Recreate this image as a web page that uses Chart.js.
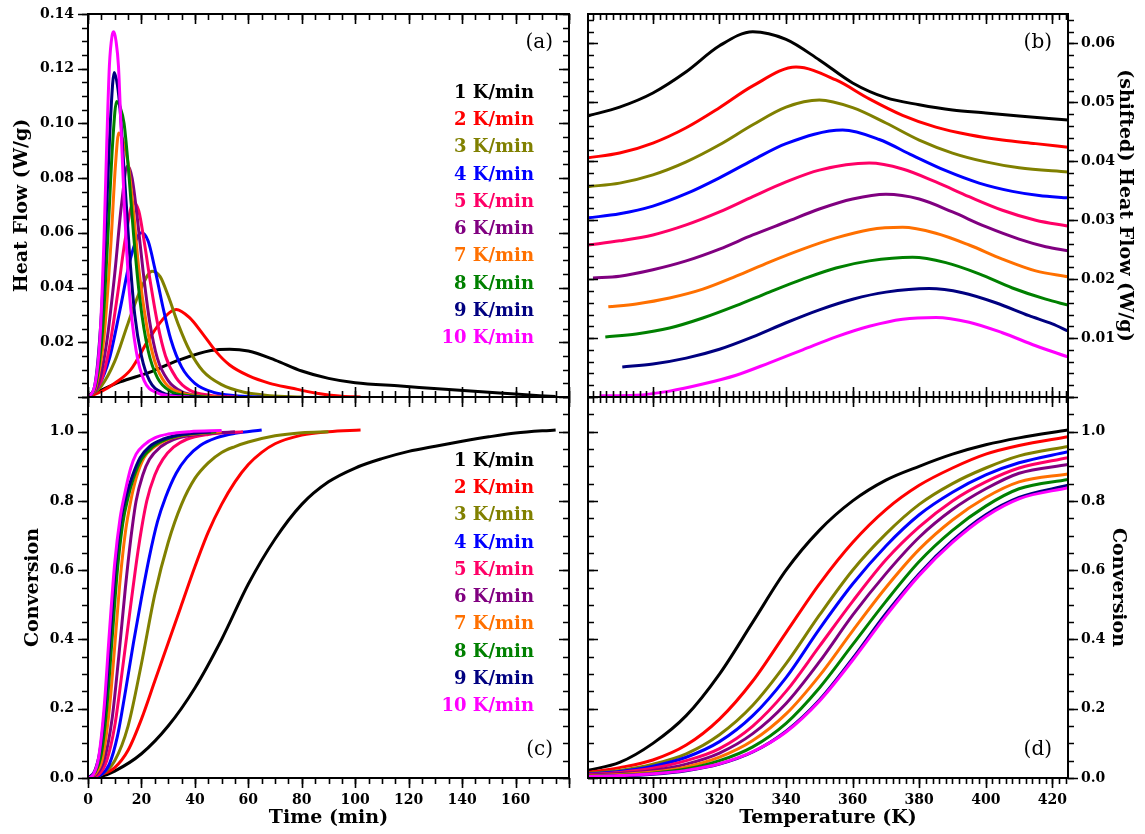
<!DOCTYPE html>
<html>
<head>
<meta charset="utf-8">
<script src="https://cdn.jsdelivr.net/npm/chart.js@4.4.1/dist/chart.umd.min.js"></script>
<style>
html, body { margin: 0; padding: 0; background: #fff; }
#wrap { position: relative; width: 1145px; height: 834px; }
canvas { position: absolute; left: 0; top: 0; }
</style>
</head>
<body>
<div id="wrap">
  <canvas id="pa" width="1145" height="834"></canvas>
  <canvas id="pb" width="1145" height="834"></canvas>
  <canvas id="pc" width="1145" height="834"></canvas>
  <canvas id="pd" width="1145" height="834"></canvas>
</div>
<script>
// heating rates and their colours
const rates = ["1 K/min", "2 K/min", "3 K/min", "4 K/min", "5 K/min",
               "6 K/min", "7 K/min", "8 K/min", "9 K/min", "10 K/min"];
const rateColors = ["#000000", "#ff0000", "#808000", "#0000ff", "#ff0066",
                    "#800080", "#ff7000", "#008000", "#000080", "#ff00ff"];

// tick labels
const timeTicks = [0, 20, 40, 60, 80, 100, 120, 140, 160];
const tempTicks = [300, 320, 340, 360, 380, 400, 420];
const heatTicks = [0.02, 0.04, 0.06, 0.08, 0.10, 0.12, 0.14];
const shiftTicks = [0.01, 0.02, 0.03, 0.04, 0.05, 0.06];
const convTicks = [0.0, 0.2, 0.4, 0.6, 0.8, 1.0];

// (a) heat flow vs time
const heatTime = [
  [0, 5, 12, 23, 34, 46, 53, 60, 70, 80, 90, 100, 117, 135, 154, 169, 175],
  [0, 5, 10, 16, 23, 29, 33, 38, 43, 48, 53, 60, 68, 76, 85, 95, 102],
  [0, 5, 10, 15, 20, 24, 27, 30, 34, 38, 43, 50, 58, 68, 80],
  [0, 4, 8, 12, 16, 20, 22.5, 25, 28, 31, 35, 40, 47, 55, 65],
  [0, 5, 8, 11, 14, 17, 19, 21, 23.5, 26, 29, 33, 38, 46, 56],
  [0, 4, 7, 10, 12.5, 14.8, 16.5, 18.5, 20.5, 23, 26, 30, 35, 42, 52],
  [0, 3, 6, 8.5, 10.3, 11.5, 13, 15, 17, 19, 22, 25, 29, 35, 42, 50],
  [0, 3, 5.5, 7.5, 9.3, 10.7, 12, 13.5, 15, 17, 19.5, 22.5, 26, 31, 38, 45],
  [0, 2.5, 5, 7, 8.5, 9.8, 11, 12, 13.5, 15.5, 17.5, 20, 23, 28, 34, 42],
  [0, 2.5, 4.5, 6, 7, 8, 9, 9.7, 10.5, 11.4, 12.3, 13.5, 15.5, 18, 21, 26, 32, 38]
];
const heatFlow = [
  [0, 0.0025, 0.0055, 0.009, 0.0135, 0.017, 0.0175, 0.0168, 0.0135, 0.0095, 0.0068, 0.0052, 0.004, 0.0027, 0.0015, 0.0005, 0.0002],
  [0, 0.002, 0.005, 0.01, 0.0215, 0.0295, 0.032, 0.029, 0.023, 0.0165, 0.0117, 0.0078, 0.005, 0.0033, 0.0015, 0.0003, 0],
  [0, 0.004, 0.013, 0.027, 0.040, 0.046, 0.044, 0.037, 0.026, 0.017, 0.0095, 0.0045, 0.0018, 0.0005, 0],
  [0, 0.004, 0.014, 0.032, 0.051, 0.060, 0.057, 0.047, 0.033, 0.021, 0.011, 0.005, 0.0017, 0.0005, 0],
  [0, 0.006, 0.018, 0.037, 0.058, 0.071, 0.068, 0.057, 0.041, 0.027, 0.015, 0.007, 0.0025, 0.0006, 0],
  [0, 0.005, 0.02, 0.045, 0.07, 0.0845, 0.08, 0.065, 0.047, 0.028, 0.014, 0.006, 0.002, 0.0005, 0],
  [0, 0.004, 0.022, 0.055, 0.085, 0.0965, 0.094, 0.0855, 0.068, 0.047, 0.026, 0.013, 0.005, 0.0015, 0.0004, 0],
  [0, 0.005, 0.025, 0.06, 0.094, 0.108, 0.106, 0.1, 0.085, 0.06, 0.035, 0.017, 0.007, 0.002, 0.0005, 0],
  [0, 0.004, 0.03, 0.07, 0.103, 0.1186, 0.114, 0.105, 0.083, 0.053, 0.03, 0.015, 0.006, 0.0015, 0.0004, 0],
  [0, 0.004, 0.022, 0.058, 0.092, 0.121, 0.132, 0.1335, 0.13, 0.121, 0.1, 0.072, 0.038, 0.017, 0.006, 0.0015, 0.0003, 0]
];

// (b) shifted heat flow vs temperature
const shiftTemp = [
  [280.5, 290, 300, 310, 320, 330, 340, 350, 360, 370, 380, 390, 400, 410, 424.7],
  [280.5, 290, 300, 310, 320, 330, 343, 355, 365, 375, 385, 395, 405, 415, 424.7],
  [280.5, 290, 300, 310, 320, 330, 340, 350, 360, 370, 380, 390, 400, 410, 424.7],
  [280.5, 290, 300, 310, 320, 330, 340, 357, 368, 378, 388, 398, 408, 416, 424.7],
  [280.5, 290, 300, 310, 320, 330, 340, 350, 365, 375, 385, 395, 405, 415, 424.7],
  [282, 290, 300, 310, 320, 330, 340, 350, 360, 370, 380, 390, 400, 410, 418, 424.7],
  [286.6, 295, 305, 315, 325, 335, 345, 355, 365, 375, 385, 395, 405, 415, 424.7],
  [285.7, 295, 305, 315, 325, 335, 345, 355, 365, 378, 388, 398, 408, 418, 424.7],
  [290.8, 300, 310, 320, 330, 340, 350, 360, 370, 383, 393, 403, 413, 420, 424.7],
  [284, 295, 305, 315, 325, 335, 345, 355, 365, 375, 385, 395, 405, 415, 424.7]
];
const shiftFlow = [
  [0.0477, 0.0492, 0.0516, 0.0552, 0.0596, 0.0620, 0.0607, 0.0572, 0.0533, 0.0508, 0.0496, 0.0487, 0.0482, 0.0477, 0.0470],
  [0.0406, 0.0414, 0.0431, 0.0457, 0.0491, 0.0528, 0.0560, 0.0538, 0.0506, 0.0478, 0.0458, 0.0445, 0.0436, 0.0430, 0.0424],
  [0.0357, 0.0363, 0.0377, 0.0399, 0.0428, 0.0462, 0.0492, 0.0504, 0.0491, 0.0465, 0.0436, 0.0414, 0.0399, 0.0389, 0.0382],
  [0.0304, 0.0311, 0.0324, 0.0345, 0.0372, 0.0402, 0.0430, 0.0453, 0.0437, 0.0410, 0.0384, 0.0363, 0.0349, 0.0342, 0.0338],
  [0.0258, 0.0265, 0.0275, 0.0292, 0.0314, 0.0340, 0.0365, 0.0385, 0.0397, 0.0387, 0.0365, 0.0340, 0.0317, 0.0300, 0.0290],
  [0.0202, 0.0205, 0.0216, 0.0231, 0.0251, 0.0275, 0.0297, 0.0319, 0.0336, 0.0344, 0.0336, 0.0314, 0.0289, 0.0268, 0.0255, 0.0248],
  [0.0153, 0.0158, 0.0168, 0.0183, 0.0205, 0.0229, 0.0251, 0.0270, 0.0284, 0.0288, 0.0278, 0.0258, 0.0234, 0.0214, 0.0204],
  [0.0102, 0.0107, 0.0117, 0.0134, 0.0155, 0.0178, 0.0200, 0.0219, 0.0231, 0.0237, 0.0228, 0.0209, 0.0185, 0.0166, 0.0156],
  [0.0051, 0.0056, 0.0066, 0.0081, 0.0102, 0.0126, 0.0148, 0.0166, 0.0178, 0.0184, 0.0177, 0.0160, 0.0138, 0.0124, 0.0112],
  [0.0002, 0.0003, 0.0010, 0.0022, 0.0037, 0.0058, 0.0080, 0.0102, 0.0120, 0.0132, 0.0135, 0.0127, 0.0109, 0.0087, 0.0068]
];

// (c) conversion vs time
const convTime = [
  [0, 5, 10, 20, 30, 40, 50, 60, 70, 80, 90, 100, 110, 120, 130, 140, 150, 160, 175],
  [0, 5, 10, 15, 20, 25, 30, 35, 40, 45, 50, 55, 60, 65, 70, 80, 90, 102],
  [0, 5, 10, 15, 20, 25, 30, 35, 40, 45, 50, 55, 60, 70, 80, 90],
  [0, 5, 8, 11, 14, 17, 20, 23, 26, 29, 33, 37, 42, 48, 55, 65],
  [0, 4, 7, 10, 13, 16, 19, 22, 25, 28, 32, 37, 45, 58],
  [0, 3, 6, 9, 11.5, 14, 16, 18, 20.5, 23, 27, 32, 40, 55],
  [0, 3, 5.5, 8, 10, 12, 14, 16, 18, 21, 25, 30, 38, 50],
  [0, 2.5, 5, 7, 9, 11, 13, 15, 17, 20, 24, 29, 36, 48],
  [0, 2.5, 4.5, 6.5, 8.5, 10.5, 12.5, 14.5, 16.5, 19.5, 23, 28, 35, 46],
  [0, 2, 4, 6, 8, 10, 12, 14, 16, 18, 21, 25, 30, 38, 50]
];
const convTimeVal = [
  [0, 0.005, 0.02, 0.07, 0.15, 0.26, 0.40, 0.56, 0.69, 0.79, 0.855, 0.895, 0.922, 0.943, 0.958, 0.972, 0.985, 0.996, 1.005],
  [0, 0.01, 0.03, 0.08, 0.17, 0.28, 0.39, 0.50, 0.61, 0.71, 0.79, 0.855, 0.905, 0.94, 0.965, 0.99, 1.0, 1.005],
  [0, 0.01, 0.05, 0.15, 0.33, 0.53, 0.68, 0.79, 0.865, 0.91, 0.94, 0.957, 0.97, 0.988, 0.997, 1.0],
  [0, 0.01, 0.04, 0.12, 0.25, 0.39, 0.52, 0.64, 0.74, 0.81, 0.88, 0.925, 0.96, 0.982, 0.995, 1.005],
  [0, 0.01, 0.05, 0.15, 0.32, 0.5, 0.67, 0.8, 0.875, 0.92, 0.955, 0.978, 0.992, 1.0],
  [0, 0.01, 0.05, 0.17, 0.35, 0.55, 0.69, 0.8, 0.875, 0.92, 0.955, 0.977, 0.991, 1.0],
  [0, 0.015, 0.06, 0.2, 0.38, 0.57, 0.71, 0.8, 0.865, 0.925, 0.957, 0.978, 0.992, 1.0],
  [0, 0.015, 0.07, 0.2, 0.4, 0.6, 0.735, 0.81, 0.865, 0.92, 0.955, 0.977, 0.991, 1.0],
  [0, 0.02, 0.08, 0.22, 0.43, 0.63, 0.755, 0.82, 0.87, 0.925, 0.957, 0.978, 0.992, 1.0],
  [0, 0.01, 0.06, 0.2, 0.42, 0.62, 0.75, 0.83, 0.895, 0.935, 0.962, 0.982, 0.993, 1.0, 1.003]
];

// (d) conversion vs temperature
const convTemp = [280.5, 290, 300, 310, 320, 330, 340, 350, 360, 370, 380, 390, 400, 410, 424.7];
const convTempVal = [
  [0.022, 0.045, 0.1, 0.18, 0.3, 0.45, 0.6, 0.715, 0.8, 0.86, 0.9, 0.935, 0.962, 0.982, 1.005],
  [0.016, 0.03, 0.052, 0.095, 0.17, 0.28, 0.42, 0.56, 0.68, 0.775, 0.845, 0.895, 0.935, 0.96, 0.985],
  [0.013, 0.022, 0.04, 0.07, 0.125, 0.21, 0.33, 0.47, 0.6, 0.705, 0.79, 0.85, 0.895, 0.93, 0.957],
  [0.012, 0.019, 0.034, 0.06, 0.105, 0.18, 0.29, 0.43, 0.56, 0.67, 0.76, 0.825, 0.875, 0.91, 0.942],
  [0.01, 0.016, 0.028, 0.05, 0.085, 0.15, 0.25, 0.38, 0.51, 0.63, 0.725, 0.8, 0.855, 0.895, 0.925],
  [0.008, 0.013, 0.022, 0.04, 0.072, 0.128, 0.215, 0.335, 0.47, 0.59, 0.695, 0.775, 0.835, 0.88, 0.905],
  [0.006, 0.01, 0.017, 0.032, 0.06, 0.108, 0.185, 0.295, 0.425, 0.55, 0.66, 0.745, 0.81, 0.855, 0.878],
  [0.005, 0.008, 0.014, 0.026, 0.05, 0.09, 0.158, 0.26, 0.385, 0.51, 0.625, 0.715, 0.785, 0.835, 0.862],
  [0.004, 0.006, 0.011, 0.021, 0.04, 0.075, 0.135, 0.225, 0.345, 0.475, 0.59, 0.685, 0.76, 0.81, 0.845],
  [0.004, 0.007, 0.012, 0.022, 0.041, 0.076, 0.133, 0.222, 0.34, 0.468, 0.585, 0.68, 0.755, 0.806, 0.838]
];

const SERIF = '"DejaVu Serif", serif';

function pts(xs, ys) {
  return xs.map((x, i) => ({ x: x, y: ys[i] }));
}

function datasets(xsList, ysList) {
  return rates.map((r, i) => ({
    label: r,
    data: pts(Array.isArray(xsList[0]) ? xsList[i] : xsList, ysList[i]),
    borderColor: rateColors[i],
    borderWidth: 3,
    pointRadius: 0,
    fill: false,
    cubicInterpolationMode: "monotone",
    order: 10 - i
  }));
}

function tickRange(min, max, step) {
  const out = [];
  const start = Math.ceil(min / step - 1e-9);
  for (let k = start; k * step <= max + 1e-9; k++) out.push(k * step);
  return out;
}

// frame, ticks, labels and texts for one panel
function makeFramePlugin(spec) {
  return {
    id: "frame",
    afterDraw(chart) {
      const ctx = chart.ctx, a = chart.chartArea;
      const xs = chart.scales.x, ys = chart.scales.y;
      ctx.save();
      ctx.strokeStyle = "#000";
      ctx.fillStyle = "#000";

      const drawX = (vals, len) => {
        ctx.lineWidth = 1.6;
        vals.forEach(v => {
          const px = Math.round(xs.getPixelForValue(v)) + 0.5;
          ctx.beginPath();
          if (spec.top === "in") { ctx.moveTo(px, a.top); ctx.lineTo(px, a.top + len); }
          if (spec.bottom === "in") { ctx.moveTo(px, a.bottom); ctx.lineTo(px, a.bottom - len); }
          if (spec.bottom === "out") { ctx.moveTo(px, a.bottom); ctx.lineTo(px, a.bottom + len); }
          ctx.stroke();
        });
      };
      const drawY = (vals, len) => {
        ctx.lineWidth = 1.6;
        vals.forEach(v => {
          const py = Math.round(ys.getPixelForValue(v)) + 0.5;
          ctx.beginPath();
          if (spec.left === "in") { ctx.moveTo(a.left, py); ctx.lineTo(a.left + len, py); }
          if (spec.left === "out") { ctx.moveTo(a.left, py); ctx.lineTo(a.left - len, py); }
          if (spec.right === "in") { ctx.moveTo(a.right, py); ctx.lineTo(a.right - len, py); }
          if (spec.right === "out") { ctx.moveTo(a.right, py); ctx.lineTo(a.right + len, py); }
          ctx.stroke();
        });
      };
      drawX(tickRange(xs.min, xs.max, spec.xMinor), 6);
      drawX(tickRange(xs.min, xs.max, spec.xMajor), 10);
      drawY(tickRange(ys.min, ys.max, spec.yMinor), 6);
      drawY(tickRange(ys.min, ys.max, spec.yMajor), 10);

      ctx.lineWidth = 2;
      ctx.strokeRect(a.left, a.top, a.right - a.left, a.bottom - a.top);

      // tick labels
      ctx.font = "bold 14px " + SERIF;
      if (spec.xLabels) {
        ctx.textAlign = "center";
        ctx.textBaseline = "middle";
        spec.xLabels.forEach(v => ctx.fillText(String(v), xs.getPixelForValue(v), a.bottom + 22));
      }
      if (spec.yLabels) {
        ctx.textBaseline = "middle";
        const side = spec.yLabelSide;
        ctx.textAlign = side === "left" ? "right" : "left";
        const x0 = side === "left" ? a.left - 14 : a.right + 13;
        spec.yLabels.forEach(v => ctx.fillText(v.toFixed(spec.yDigits), x0, ys.getPixelForValue(v)));
      }

      // axis titles
      ctx.font = "bold 19px " + SERIF;
      ctx.textAlign = "center";
      ctx.textBaseline = "middle";
      if (spec.xTitle) ctx.fillText(spec.xTitle, (a.left + a.right) / 2, 818);
      if (spec.yTitle) {
        ctx.save();
        ctx.translate(spec.yTitleX, (a.top + a.bottom) / 2);
        ctx.rotate(spec.yLabelSide === "left" ? -Math.PI / 2 : Math.PI / 2);
        ctx.fillText(spec.yTitle, 0, 0);
        ctx.restore();
      }

      // panel letter
      ctx.font = "20px " + SERIF;
      ctx.textAlign = "right";
      ctx.fillText(spec.letter, a.right - 16, spec.letterY);

      // text legend
      if (spec.legendY) {
        ctx.font = "bold 18px " + SERIF;
        ctx.textAlign = "right";
        rates.forEach((r, i) => {
          ctx.fillStyle = rateColors[i];
          ctx.fillText(r, 534, spec.legendY + i * 27.3);
        });
      }
      ctx.restore();
    }
  };
}

function makeChart(id, ds, xRange, yRange, pad, spec) {
  return new Chart(document.getElementById(id), {
    type: "line",
    data: { datasets: ds },
    options: {
      responsive: false,
      animation: false,
      devicePixelRatio: 1,
      layout: { padding: pad },
      scales: {
        x: { type: "linear", min: xRange[0], max: xRange[1], display: false },
        y: { type: "linear", min: yRange[0], max: yRange[1], display: false }
      },
      plugins: { legend: { display: false }, tooltip: { enabled: false } }
    },
    plugins: [makeFramePlugin(spec)]
  });
}

makeChart("pa", datasets(heatTime, heatFlow), [0, 180], [0, 0.14],
  { left: 88, top: 14, right: 576, bottom: 437 },
  { top: "in", bottom: "in", left: "out", right: "in",
    xMajor: 20, xMinor: 5, yMajor: 0.02, yMinor: 0.005,
    yLabels: heatTicks, yDigits: 2, yLabelSide: "left",
    yTitle: "Heat Flow (W/g)", yTitleX: 22,
    letter: "(a)", letterY: 43, legendY: 93 });

makeChart("pb", datasets(shiftTemp, shiftFlow), [280.5, 424.7], [0, 0.065],
  { left: 588, top: 14, right: 77, bottom: 437 },
  { top: "in", bottom: "in", left: "in", right: "out",
    xMajor: 20, xMinor: 2, yMajor: 0.01, yMinor: 0.002,
    yLabels: shiftTicks, yDigits: 2, yLabelSide: "right",
    yTitle: "(shifted) Heat Flow (W/g)", yTitleX: 1125,
    letter: "(b)", letterY: 43 });

makeChart("pc", datasets(convTime, convTimeVal), [0, 180], [0, 1.1],
  { left: 88, top: 397, right: 576, bottom: 56 },
  { top: "in", bottom: "out", left: "out", right: "in",
    xMajor: 20, xMinor: 5, yMajor: 0.2, yMinor: 0.05,
    xLabels: timeTicks, xTitle: "Time (min)",
    yLabels: convTicks, yDigits: 1, yLabelSide: "left",
    yTitle: "Conversion", yTitleX: 33,
    letter: "(c)", letterY: 750, legendY: 461 });

makeChart("pd", datasets(convTemp, convTempVal), [280.5, 424.7], [0, 1.1],
  { left: 588, top: 397, right: 77, bottom: 56 },
  { top: "in", bottom: "out", left: "in", right: "out",
    xMajor: 20, xMinor: 2, yMajor: 0.2, yMinor: 0.05,
    xLabels: tempTicks, xTitle: "Temperature (K)",
    yLabels: convTicks, yDigits: 1, yLabelSide: "right",
    yTitle: "Conversion", yTitleX: 1118,
    letter: "(d)", letterY: 750 });
</script>
</body>
</html>
